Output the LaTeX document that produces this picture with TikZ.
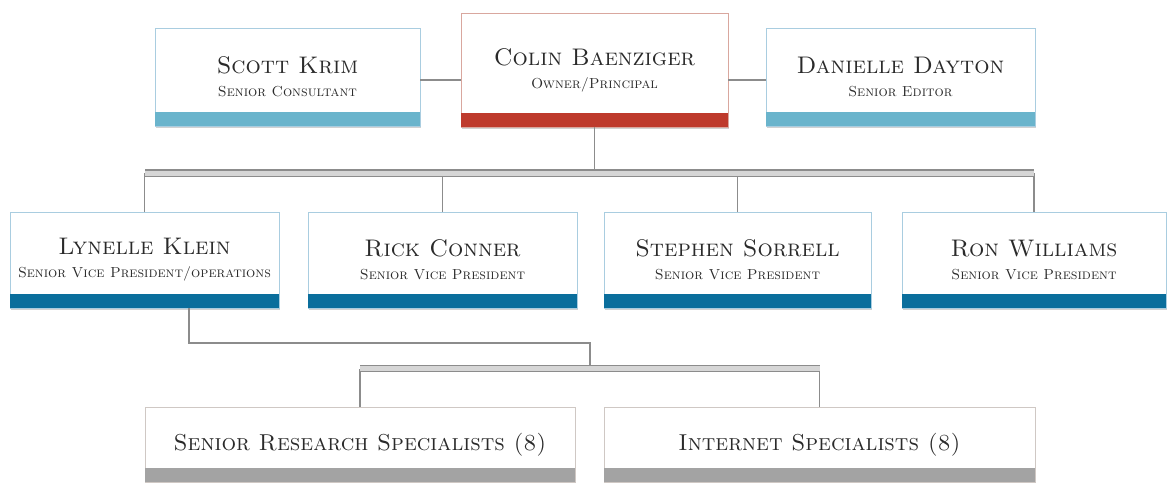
\documentclass[tikz,border=0pt]{standalone}
\usetikzlibrary{shadows}

\definecolor{barlight}{HTML}{6AB4CC}
\definecolor{barblue}{HTML}{0A6E9C}
\definecolor{barred}{HTML}{BE3A2C}
\definecolor{bargray}{HTML}{A3A3A3}
\definecolor{edgeblue}{HTML}{A9CDE0}
\definecolor{edgered}{HTML}{D9A79E}
\definecolor{edgegray}{HTML}{CFC8C4}
\definecolor{linkgray}{HTML}{8C8C8C}
\definecolor{busfill}{HTML}{D6D6D6}
\definecolor{textgray}{HTML}{2A2A2A}

\newcommand{\orgname}[1]{{\fontsize{24}{26}\selectfont\textsc{#1}}}
\newcommand{\orgrole}[1]{{\fontsize{14.5}{16}\selectfont\textsc{#1}}}

\tikzset{
  person/.style={draw=#1, fill=white, line width=0.8pt, align=center,
    text=textgray, font=\fontsize{14.5}{23}\selectfont,
    drop shadow={shadow xshift=1pt, shadow yshift=-2pt, fill=black!40, opacity=.45}},
  link/.style={draw=linkgray, line width=1.3pt},
  bus/.style={draw=linkgray, double=busfill, double distance=5pt, line width=1.2pt},
}

\begin{document}
\begin{tikzpicture}[x=1pt, y=-1pt]
  \useasboundingbox (0,0) rectangle (1167,482);

  % top row
  \node[person=edgeblue, minimum width=265pt, minimum height=98pt] (scott) at (287.5,77)
    {\orgname{Scott Krim}\\\orgrole{Senior Consultant}};
  \node[person=edgered, minimum width=267pt, minimum height=114pt] (colin) at (594.5,70)
    {\orgname{Colin Baenziger}\\\orgrole{Owner/Principal}};
  \node[person=edgeblue, minimum width=269pt, minimum height=98pt] (danielle) at (900.5,77)
    {\orgname{Danielle Dayton}\\\orgrole{Senior Editor}};

  % vice presidents
  \node[person=edgeblue, minimum width=269pt, minimum height=96pt] (lynelle) at (144.5,260)
    {\orgname{Lynelle Klein}\\\orgrole{Senior Vice President/operations}};
  \node[person=edgeblue, minimum width=269pt, minimum height=96pt] (rick) at (442.5,260)
    {\orgname{Rick Conner}\\\orgrole{Senior Vice President}};
  \node[person=edgeblue, minimum width=267pt, minimum height=96pt] (stephen) at (737.5,260)
    {\orgname{Stephen Sorrell}\\\orgrole{Senior Vice President}};
  \node[person=edgeblue, minimum width=264pt, minimum height=96pt] (ron) at (1034,260)
    {\orgname{Ron Williams}\\\orgrole{Senior Vice President}};

  % specialists
  \node[person=edgegray, minimum width=430pt, minimum height=75pt] (research) at (360,444.5)
    {\raisebox{4pt}{\fontsize{23}{25}\selectfont\textsc{Senior Research Specialists (8)}}};
  \node[person=edgegray, minimum width=431pt, minimum height=75pt] (internet) at (819.5,444.5)
    {\raisebox{4pt}{\fontsize{23}{25}\selectfont\textsc{Internet Specialists (8)}}};

  % colour bars
  \foreach \n/\c in {scott/barlight, colin/barred, danielle/barlight,
                     lynelle/barblue, rick/barblue, stephen/barblue, ron/barblue,
                     research/bargray, internet/bargray}
    \fill[\c] (\n.south west) rectangle ([yshift=14.5pt]\n.south east);

  \coordinate (busa) at (145,173);
  \coordinate (busb) at (360,368.5);
  \coordinate (elbow) at (590,343);

  % connectors
  \draw[link] ([yshift=-3pt]scott.east) -- ([yshift=-3pt]scott.east -| colin.west);
  \draw[link] ([yshift=-3pt]danielle.west) -- ([yshift=-3pt]danielle.west -| colin.east);
  \draw[link] (colin.south) -- (colin.south |- busa);
  \foreach \n in {lynelle,rick,stephen,ron}
    \draw[link] (\n.north) -- (\n.north |- busa);
  \draw[link] ([xshift=44.5pt]lynelle.south) |- (elbow) -- (elbow |- busb);
  \foreach \n in {research,internet}
    \draw[link] (\n.north) -- (\n.north |- busb);

  \draw[bus] (busa) -- (ron.north |- busa);
  \draw[bus] (busb) -- (internet.north |- busb);
\end{tikzpicture}
\end{document}
